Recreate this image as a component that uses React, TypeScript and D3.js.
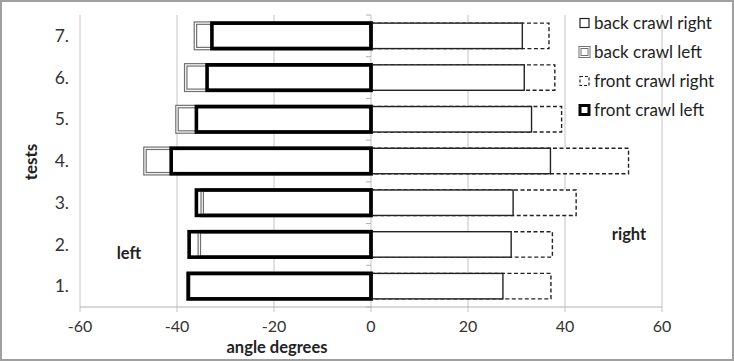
import React from "react";
import * as d3 from "d3";

const categories = ["1.", "2.", "3.", "4.", "5.", "6.", "7."];
const backRight = [27.2, 28.9, 29.3, 37.0, 33.1, 31.6, 31.2];
const frontRight = [37.1, 37.4, 42.3, 53.1, 39.3, 37.9, 36.7];
const backLeft = [-37.6, -35.4, -34.8, -46.6, -40.0, -38.2, -36.2];
const frontLeft = [-37.7, -37.5, -36.0, -41.2, -36.0, -33.8, -32.8];
const xTicks = [-60, -40, -20, 0, 20, 40, 60];
const legendItems = ["back crawl right", "back crawl left", "front crawl right", "front crawl left"];

const W = 734, H = 361;
const FONT = "Lato, 'Open Sans', sans-serif";

export default function App() {
  const x = d3.scaleLinear().domain([-60, 60]).range([80, 662]);
  const y = d3.scaleBand<string>().domain(categories).range([307, 15]).paddingInner(0.39).paddingOuter(0.195);
  const bw = y.bandwidth();
  const rectFor = (v: number, c: string) => {
    const x0 = x(Math.min(0, v)), x1 = x(Math.max(0, v));
    return { x: x0, y: y(c)!, width: x1 - x0, height: bw };
  };
  const boundaries = d3.range(categories.length + 1).map(i => 15 + i * y.step());

  return (
    <svg width={W} height={H} style={{ position: "absolute", left: 0, top: 0, background: "#fff" }} fontFamily={FONT}>
      <rect x={0} y={0} width={W} height={H} fill="#fff" />
      <rect x={1} y={1} width={W - 2} height={H - 2} fill="none" stroke="#a0a0a0" strokeWidth={2} />
      {/* gridlines */}
      {xTicks.map(t => (
        <line key={"g" + t} x1={x(t)} x2={x(t)} y1={15} y2={312} stroke="#c4c4c4" strokeWidth={1} />
      ))}
      <line x1={x(-60)} x2={x(60)} y1={307} y2={307} stroke="#b0b0b0" strokeWidth={1} />
      {boundaries.map((b, i) => (
        <line key={"bt" + i} x1={x(0) - 5} x2={x(0)} y1={b} y2={b} stroke="#b0b0b0" strokeWidth={1} />
      ))}
      {/* right bars */}
      {categories.map((c, i) => {
        const r = rectFor(frontRight[i], c);
        return <rect key={"fr" + c} {...r} fill="#fff" stroke="#222" strokeWidth={1.4} strokeDasharray="4,2.5" />;
      })}
      {categories.map((c, i) => {
        const r = rectFor(backRight[i], c);
        return <rect key={"br" + c} {...r} fill="#fff" stroke="#222" strokeWidth={1.4} />;
      })}
      {/* left bars */}
      {categories.map((c, i) => {
        const r = rectFor(backLeft[i], c);
        return (
          <g key={"bl" + c}>
            <rect {...r} fill="#fff" stroke="#707070" strokeWidth={3.6} />
            <rect {...r} fill="none" stroke="#fff" strokeWidth={1.2} />
          </g>
        );
      })}
      {categories.map((c, i) => {
        const r = rectFor(frontLeft[i], c);
        return <rect key={"fl" + c} {...r} fill="none" stroke="#000" strokeWidth={3.6} />;
      })}
      {/* y labels */}
      {categories.map(c => (
        <text key={"yl" + c} x={69} y={y(c)! + bw / 2} dy="0.35em" textAnchor="end" fontSize={17.5} fill="#333">{c}</text>
      ))}
      {/* x labels */}
      {xTicks.map(t => (
        <text key={"xl" + t} x={x(t)} y={326} dy="0.35em" textAnchor="middle" fontSize={16} fill="#333">{t}</text>
      ))}
      <text x={277} y={347.5} dy="0.35em" textAnchor="middle" fontSize={16.5} fontWeight="bold" fill="#222">angle degrees</text>
      <text transform={`translate(31,162) rotate(-90)`} dy="0.35em" textAnchor="middle" fontSize={17} fontWeight="bold" fill="#222">tests</text>
      <text x={129} y={253} dy="0.35em" textAnchor="middle" fontSize={16.5} fontWeight="bold" fill="#222">left</text>
      <text x={629} y={234} dy="0.35em" textAnchor="middle" fontSize={16.5} fontWeight="bold" fill="#222">right</text>
      {/* legend */}
      {legendItems.map((name, i) => {
        const ly = 23 + i * 29;
        return (
          <g key={"lg" + i}>
            {i === 0 && <rect x={580} y={ly - 4.5} width={9} height={9} fill="#fff" stroke="#222" strokeWidth={1.2} />}
            {i === 1 && (
              <g>
                <rect x={580} y={ly - 4.5} width={9} height={9} fill="#fff" stroke="#707070" strokeWidth={3} />
                <rect x={580} y={ly - 4.5} width={9} height={9} fill="none" stroke="#fff" strokeWidth={1} />
              </g>
            )}
            {i === 2 && <rect x={580} y={ly - 4.5} width={9} height={9} fill="#fff" stroke="#222" strokeWidth={1.2} strokeDasharray="3,2" />}
            {i === 3 && <rect x={580} y={ly - 4.5} width={9} height={9} fill="none" stroke="#000" strokeWidth={3} />}
            <text x={594} y={ly} dy="0.35em" fontSize={17} fill="#222">{name}</text>
          </g>
        );
      })}
    </svg>
  );
}
